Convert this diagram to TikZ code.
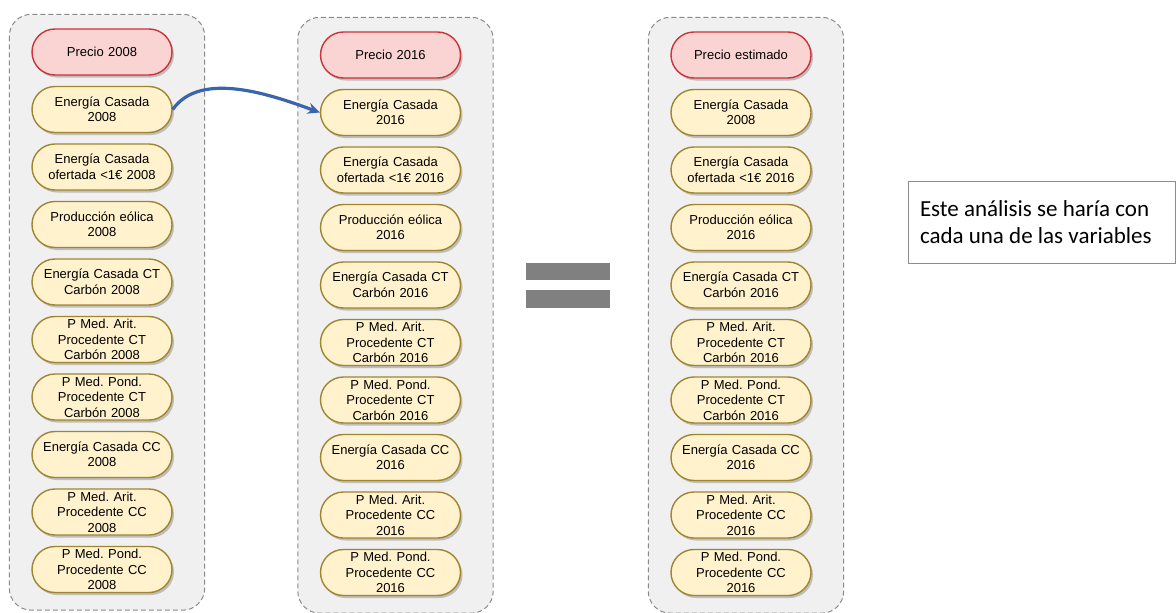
\documentclass[tikz,border=0pt]{standalone}
\usepackage{fontspec}
\setmainfont{Liberation Sans}
\newfontfamily\notefont{Carlito}
\usetikzlibrary{calc,shapes,arrows,arrows.meta,positioning,shadows,backgrounds}
\definecolor{pricefill}{HTML}{FAD4D2}
\definecolor{pricedraw}{HTML}{CC3338}
\definecolor{varfill}{HTML}{FFF2CC}
\definecolor{vardraw}{HTML}{A08530}
\definecolor{groupfill}{HTML}{F0F0F0}
\definecolor{groupdraw}{HTML}{8A8A8A}
\definecolor{arrowblue}{HTML}{3A64AD}
\frenchspacing
\tikzset{
     box node/.style={rectangle, rounded corners=23pt, minimum width=140pt, minimum height=46pt,
        text width=130pt, inner xsep=5pt, inner ysep=1pt, align=center,
        font=\fontsize{13}{15.5}\selectfont, line width=1.4pt,
        drop shadow={shadow xshift=2pt, shadow yshift=-2.5pt, opacity=.3, fill=black!70}},
      price node/.style = {box node, fill=pricefill, draw=pricedraw},
      var node/.style = {box node, fill=varfill, draw=vardraw},
      group box/.style = {fill=groupfill, draw=groupdraw, line width=1pt,
        dash pattern=on 5pt off 3pt, rounded corners=22pt},
      copyedge/.style = {arrowblue, -{Stealth[length=12pt,width=11pt]}, line width=3.2pt},
      bar node/.style = {fill=black!50, minimum width=84pt, minimum height=17.5pt, inner sep=0pt},
      note node/.style = {draw=black!45, line width=0.8pt, minimum width=267pt, minimum height=82pt,
        text width=243pt, align=flush left, font=\notefont\fontsize{23}{27}\selectfont},
    }

\begin{document}
\begin{tikzpicture}[x=1pt,y=1pt,node distance=57.5pt,on grid]
        \useasboundingbox (0,0) rectangle (1176,-613);

        % 2008
        \node [price node] (p1) at (102,-52)    {Precio 2008};
        \node [var node] (a1) [below=of p1]     {Energía Casada\\2008};
        \node [var node] (a2) [below=of a1]     {Energía Casada\\ofertada <1€ 2008};
        \node [var node] (a3) [below=of a2]     {Producción eólica\\2008};
        \node [var node] (a4) [below=of a3]     {Energía Casada CT\\Carbón 2008};
        \node [var node] (a5) [below=of a4]     {P Med. Arit.\\Procedente CT\\Carbón 2008};
        \node [var node] (a6) [below=of a5]     {P Med. Pond.\\Procedente CT\\Carbón 2008};
        \node [var node] (a7) [below=of a6]     {Energía Casada CC\\2008};
        \node [var node] (a8) [below=of a7]     {P Med. Arit.\\Procedente CC\\2008};
        \node [var node] (a9) [below=of a8]     {P Med. Pond.\\Procedente CC\\2008};

        % 2016
        \node [price node] (p2) at (390.5,-55)  {Precio 2016};
        \node [var node] (b1) [below=of p2]     {Energía Casada\\2016};
        \node [var node] (b2) [below=of b1]     {Energía Casada\\ofertada <1€ 2016};
        \node [var node] (b3) [below=of b2]     {Producción eólica\\2016};
        \node [var node] (b4) [below=of b3]     {Energía Casada CT\\Carbón 2016};
        \node [var node] (b5) [below=of b4]     {P Med. Arit.\\Procedente CT\\Carbón 2016};
        \node [var node] (b6) [below=of b5]     {P Med. Pond.\\Procedente CT\\Carbón 2016};
        \node [var node] (b7) [below=of b6]     {Energía Casada CC\\2016};
        \node [var node] (b8) [below=of b7]     {P Med. Arit.\\Procedente CC\\2016};
        \node [var node] (b9) [below=of b8]     {P Med. Pond.\\Procedente CC\\2016};

        % estimado
        \node [price node] (p3) at (741,-55)    {Precio estimado};
        \node [var node] (c1) [below=of p3]     {Energía Casada\\2008};
        \node [var node] (c2) [below=of c1]     {Energía Casada\\ofertada <1€ 2016};
        \node [var node] (c3) [below=of c2]     {Producción eólica\\2016};
        \node [var node] (c4) [below=of c3]     {Energía Casada CT\\Carbón 2016};
        \node [var node] (c5) [below=of c4]     {P Med. Arit.\\Procedente CT\\Carbón 2016};
        \node [var node] (c6) [below=of c5]     {P Med. Pond.\\Procedente CT\\Carbón 2016};
        \node [var node] (c7) [below=of c6]     {Energía Casada CC\\2016};
        \node [var node] (c8) [below=of c7]     {P Med. Arit.\\Procedente CC\\2016};
        \node [var node] (c9) [below=of c8]     {P Med. Pond.\\Procedente CC\\2016};

        \begin{scope}[on background layer]
        \draw [group box] ($(p1.north west)+(-22,14)$) rectangle ($(a9.south east)+(32,-17)$);
        \draw [group box] ($(p2.north west)+(-22,14)$) rectangle ($(b9.south east)+(32,-17)$);
        \draw [group box] ($(p3.north west)+(-22,14)$) rectangle ($(c9.south east)+(32,-17)$);
        \end{scope}

        \node [bar node] (eqtop) at (568,-271.5) {};
        \node [bar node] (eqbot) at (568,-299) {};

        \node [note node] (note) at (1041.5,-222) {Este análisis se haría con\\cada una de las variables};

        \draw [copyedge] (a1.east) to [out=55, in=160, looseness=0.85] (b1.west);
    \end{tikzpicture}
\end{document}
